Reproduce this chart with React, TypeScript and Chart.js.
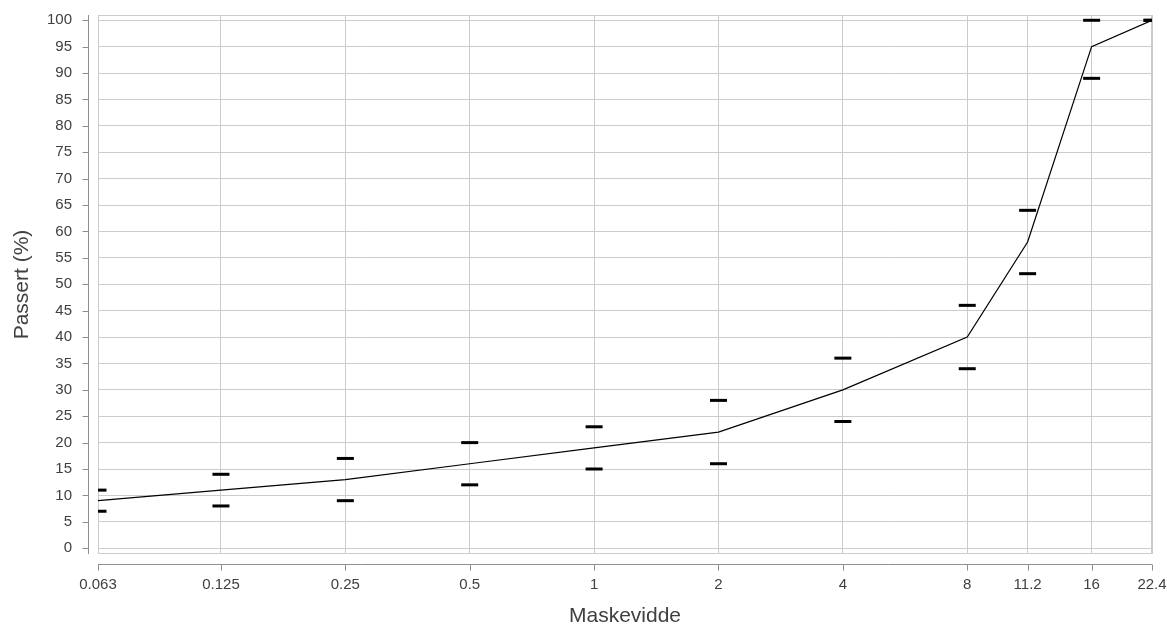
import React, { useEffect, useRef } from "react";
import { Chart, registerables } from "chart.js";

Chart.register(...registerables);

// Sieve sizes (mm) and tick labels
const sieveSizes = [0.063, 0.125, 0.25, 0.5, 1, 2, 4, 8, 11.2, 16, 22.4];
const xTickLabels = ["0.063", "0.125", "0.25", "0.5", "1", "2", "4", "8", "11.2", "16", "22.4"];
const yTickValues = [0, 5, 10, 15, 20, 25, 30, 35, 40, 45, 50, 55, 60, 65, 70, 75, 80, 85, 90, 95, 100];

// Passing (%) curve and limit markers
const passing = [9, 11, 13, 16, 19, 22, 30, 40, 58, 95, 100];
const upperLimit = [11, 14, 17, 20, 23, 28, 36, 46, 64, 100, 100];
const lowerLimit = [7, 8, 9, 12, 15, 16, 24, 34, 52, 89, 100];

const xTitle = "Maskevidde";
const yTitle = "Passert (%)";

const FONT = '"Liberation Sans", Arial, sans-serif';
const TEXT_COLOR = "#404040";
const GRID_COLOR = "#cccccc";
const AXIS_COLOR = "#8f8f8f";

const zeroPadding = (scale: any) => {
  scale.paddingLeft = 0;
  scale.paddingRight = 0;
  scale.paddingTop = 0;
  scale.paddingBottom = 0;
};

export default function App() {
  const canvasRef = useRef<HTMLCanvasElement>(null);

  useEffect(() => {
    if (!canvasRef.current) return;

    const framePlugin = {
      id: "framePlugin",
      beforeDatasetsDraw(chart: any) {
        const { ctx, chartArea: a } = chart;
        ctx.save();
        ctx.strokeStyle = GRID_COLOR;
        ctx.lineWidth = 1;
        ctx.strokeRect(
          Math.round(a.left) + 0.5,
          Math.round(a.top) + 0.5,
          Math.round(a.right - a.left) - 1,
          Math.round(a.bottom - a.top) - 1
        );
        ctx.restore();
      },
      afterDraw(chart: any) {
        const { ctx, chartArea: a, scales } = chart;
        const xs = scales.x;
        const ys = scales.y;
        ctx.save();
        ctx.strokeStyle = AXIS_COLOR;
        ctx.lineWidth = 1;
        // y axis line (detached from plot)
        const yx = Math.round(a.left) - 10 + 0.5;
        ctx.beginPath();
        ctx.moveTo(yx, a.top);
        ctx.lineTo(yx, a.bottom);
        for (const v of yTickValues) {
          const py = Math.round(ys.getPixelForValue(v)) + 0.5;
          ctx.moveTo(yx - 6, py);
          ctx.lineTo(yx, py);
        }
        ctx.stroke();
        // x axis line (detached from plot)
        const xy = Math.round(a.bottom) + 10 + 0.5;
        ctx.beginPath();
        ctx.moveTo(a.left, xy);
        ctx.lineTo(a.right, xy);
        for (const v of sieveSizes) {
          const px = Math.round(xs.getPixelForValue(v)) + 0.5;
          ctx.moveTo(px, xy);
          ctx.lineTo(px, xy + 6);
        }
        ctx.stroke();

        // titles
        ctx.fillStyle = TEXT_COLOR;
        ctx.font = `21px ${FONT}`;
        ctx.textAlign = "center";
        ctx.textBaseline = "alphabetic";
        ctx.fillText(xTitle, (a.left + a.right) / 2, 622);
        ctx.translate(28, (a.top + a.bottom) / 2);
        ctx.rotate(-Math.PI / 2);
        ctx.fillText(yTitle, 0, 0);
        ctx.restore();
      },
    };

    const markerStyle = {
      showLine: false,
      pointStyle: "line" as const,
      pointRadius: 8.5,
      pointHoverRadius: 8.5,
      pointBorderWidth: 3,
      pointHoverBorderWidth: 3,
      pointBorderColor: "#000000",
      borderColor: "#000000",
      backgroundColor: "#000000",
      clip: 0,
    };

    const chart = new Chart(canvasRef.current, {
      type: "line",
      data: {
        datasets: [
          {
            label: "Passert",
            data: sieveSizes.map((x, i) => ({ x, y: passing[i] })),
            borderColor: "#000000",
            borderWidth: 1.2,
            pointRadius: 0,
            pointHoverRadius: 0,
            tension: 0,
            fill: false,
            clip: 0,
          },
          {
            label: "Øvre grense",
            data: sieveSizes.map((x, i) => ({ x, y: upperLimit[i] })),
            ...markerStyle,
          },
          {
            label: "Nedre grense",
            data: sieveSizes.map((x, i) => ({ x, y: lowerLimit[i] })),
            ...markerStyle,
          },
        ],
      },
      options: {
        animation: false,
        responsive: false,
        devicePixelRatio: 1,
        events: [],
        layout: { padding: { top: 15, right: 15, left: 0, bottom: 0 } },
        plugins: {
          legend: { display: false },
          tooltip: { enabled: false },
        },
        scales: {
          x: {
            type: "logarithmic",
            min: 0.063,
            max: 22.4,
            border: { display: false },
            grid: { color: GRID_COLOR, lineWidth: 1, drawTicks: false },
            afterBuildTicks: (scale: any) => {
              scale.ticks = sieveSizes.map((v) => ({ value: v }));
            },
            afterFit: (scale: any) => {
              scale.height = 72;
              zeroPadding(scale);
            },
            ticks: {
              autoSkip: false,
              maxRotation: 0,
              minRotation: 0,
              padding: 22,
              color: TEXT_COLOR,
              font: { family: FONT, size: 15 },
              callback: (_v: any, i: number) => xTickLabels[i],
            },
          },
          y: {
            type: "linear",
            min: -1.1,
            max: 101,
            border: { display: false },
            grid: { color: GRID_COLOR, lineWidth: 1, drawTicks: false },
            afterBuildTicks: (scale: any) => {
              scale.ticks = yTickValues.map((v) => ({ value: v }));
            },
            afterFit: (scale: any) => {
              scale.width = 98;
              zeroPadding(scale);
            },
            ticks: {
              padding: 26,
              color: TEXT_COLOR,
              font: { family: FONT, size: 15 },
              callback: (v: any) => String(v),
            },
          },
        },
      },
      plugins: [framePlugin],
    });

    return () => chart.destroy();
  }, []);

  return (
    <div style={{ position: "absolute", left: 0, top: 0, width: 1167, height: 626 }}>
      <canvas ref={canvasRef} width={1167} height={626} style={{ display: "block" }} />
    </div>
  );
}
